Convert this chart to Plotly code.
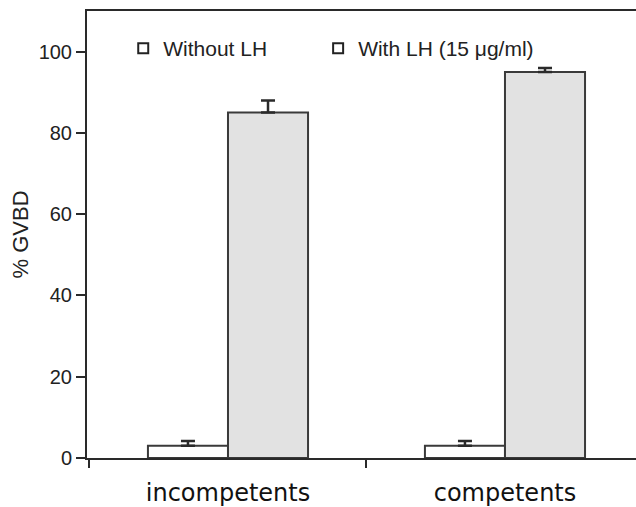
import plotly.graph_objects as go

categories = ["incompetents", "competents"]
series_names = ["Without LH", "With LH (15 μg/ml)"]
without_lh = [3, 3]
without_lh_err = [1.2, 1.2]
with_lh = [85, 95]
with_lh_err = [3, 1]
y_ticks = [0, 20, 40, 60, 80, 100]

fills = ["#ffffff", "#e2e2e2"]
values = [without_lh, with_lh]
errors = [without_lh_err, with_lh_err]

fig = go.Figure()
for name, vals, errs, fill in zip(series_names, values, errors, fills):
    fig.add_trace(go.Bar(
        x=categories, y=vals, name=name, showlegend=False,
        marker=dict(color=fill, line=dict(color="#3a3a3a", width=2)),
        error_y=dict(type="data", array=errs, arrayminus=[0] * len(errs),
                     symmetric=False, color="#2a2a2a", thickness=2.5, width=7),
    ))
# legend entries (open squares as in the original)
for name, lg in zip(series_names, ["legend", "legend2"]):
    fig.add_trace(go.Scatter(
        x=[None], y=[None], mode="markers", name=name, legend=lg,
        marker=dict(symbol="square", size=10, color="white",
                    line=dict(color="#222", width=2)),
    ))

leg_common = dict(orientation="h", y=0.962, xanchor="left", yanchor="top",
                  bgcolor="rgba(0,0,0,0)", font=dict(size=21), itemclick=False)
fig.update_layout(
    width=636, height=507,
    margin=dict(l=87, r=0, t=11, b=47),
    plot_bgcolor="white", paper_bgcolor="white",
    barmode="group", bargap=0.422, bargroupgap=0,
    font=dict(family="Liberation Sans, Arial, sans-serif", color="#222", size=20),
    legend=dict(x=0.066, **leg_common),
    legend2=dict(x=0.421, **leg_common),
)
fig.update_xaxes(
    range=[-0.509, 1.473], showline=True, linecolor="#2a2a2a", linewidth=2,
    mirror=True, ticks="outside", tickson="boundaries", ticklen=8,
    tickwidth=2, tickcolor="#2a2a2a", showgrid=False, zeroline=False,
    tickfont=dict(family="DejaVu Sans, Verdana, sans-serif", size=24, color="#111"),
    ticklabelstandoff=12,
)
fig.update_yaxes(
    range=[0, 110], tickvals=y_ticks, showline=True, linecolor="#2a2a2a",
    linewidth=2, ticks="outside", ticklen=9, tickwidth=2, tickcolor="#2a2a2a",
    showgrid=False, zeroline=False, tickfont=dict(size=20, color="#222"),
    title=dict(text="% GVBD", font=dict(size=22, color="#222"), standoff=4),
)

fig.write_html("out.html")
